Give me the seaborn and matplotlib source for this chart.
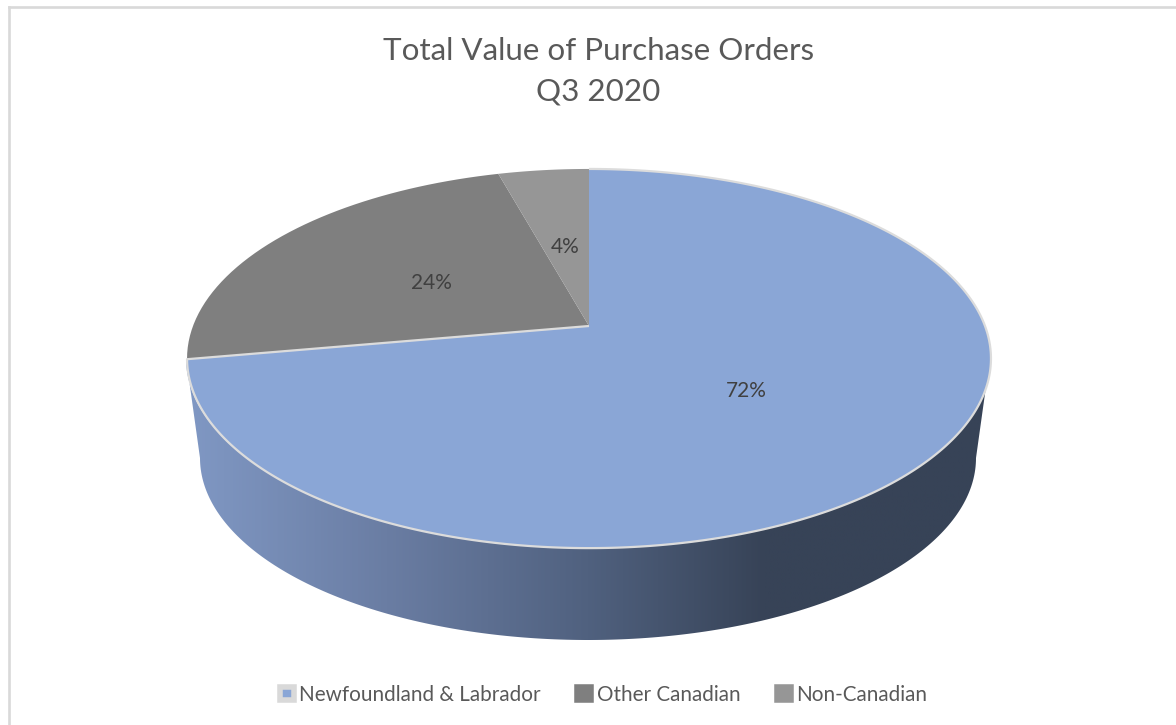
import numpy as np
import matplotlib
matplotlib.use("Agg")
import matplotlib.pyplot as plt
import seaborn as sns
from matplotlib.colors import LinearSegmentedColormap
from matplotlib.patches import Patch, Polygon
from matplotlib.path import Path
from matplotlib.transforms import Transform

# ---- data ----
categories = ["Newfoundland & Labrador", "Other Canadian", "Non-Canadian"]
values = [72.2, 23.5, 4.3]
title = "Total Value of Purchase Orders\nQ3 2020"

# ---- style ----
W, H = 1176, 725
palette = ["#8aa6d6", "#7f7f7f", "#969696"]
text_color = "#595959"
rule_color = "#d9d9d9"
wall_stops = [(0.0, "#8098c4"), (0.25, "#6a7da3"), (0.5, "#50617f"),
              (0.72, "#374357"), (1.0, "#374357")]

sns.set_theme(style="white", rc={"axes.edgecolor": rule_color})
plt.rcParams["font.family"] = ["Lato", "DejaVu Sans"]


class Perspective(Transform):
    """Maps the unit pie circle on to the tilted top face, in pixel-like data units."""
    input_dims = output_dims = 2
    is_separable = False
    has_inverse = False

    def __init__(self, cx, cy, a, b, k):
        super().__init__()
        self.cx, self.cy, self.a, self.b, self.k = cx, cy, a, b, k

    def transform_non_affine(self, values):
        values = np.asarray(values, float)
        u, v = values[:, 0], values[:, 1]
        w = 1 + self.k * v
        return np.column_stack([self.cx + self.a * u / w, self.cy - self.b * v / w])

    def transform_path_non_affine(self, path):
        if path.codes is None:
            out = Path(self.transform_non_affine(path.vertices))
        else:
            pts = [path.vertices[:1]]
            for seg, code in path.iter_bezier():
                if code == Path.MOVETO:
                    continue
                pts.append(seg(np.linspace(0, 1, 25)[1:]))
            out = Path(self.transform_non_affine(np.vstack(pts)))
        out.should_simplify = False
        return out


fig = plt.figure(figsize=(W / 100, H / 100), dpi=100, facecolor="white")
ax = fig.add_axes([8.5 / W, 0, 1 - 8.5 / W, 1 - 6.5 / H])

persp = Perspective(589, 326, 396, 184, 0.1716)

wedges, _, pct = ax.pie(
    values, colors=palette, startangle=90, counterclock=False,
    autopct="%.0f%%", pctdistance=0.49,
    wedgeprops={"transform": persp + ax.transData, "linewidth": 0, "zorder": 3},
    textprops={"color": "#404040", "fontsize": 15, "zorder": 6},
)
for t in pct:
    px, py = t.get_position()
    t.set_position((px, py - 0.02))
    t.set_transform(persp + ax.transData)

ax.set_aspect("auto")
ax.set_xlim(8.5, W)
ax.set_ylim(H, 6.5)
ax.set_frame_on(True)
ax.set_xticks([])
ax.set_yticks([])
sns.despine(ax=ax, top=False, left=False, right=True, bottom=True)
for s in ("top", "left"):
    ax.spines[s].set_color(rule_color)
    ax.spines[s].set_linewidth(1.9)

# side wall: lower half of the top rim joined to lower half of the base rim
th = np.radians(np.linspace(0, 180, 200))
top_x, top_y = 588 + 402 * np.cos(th), 358 + 190 * np.sin(th)
low_x, low_y = 588 + 388 * np.cos(th), 458 + 182 * np.sin(th)
wall = Polygon(np.column_stack([np.r_[top_x, low_x[::-1]], np.r_[top_y, low_y[::-1]]]),
               closed=True, transform=ax.transData, facecolor="none", edgecolor="none")
ax.add_patch(wall)
cmap = LinearSegmentedColormap.from_list("wall", wall_stops)
im = ax.imshow(np.linspace(0, 1, 512)[None, :], extent=(186, 990, 650, 340),
               aspect="auto", cmap=cmap, zorder=2, interpolation="bilinear")
im.set_clip_path(wall)
ax.set_xlim(8.5, W)
ax.set_ylim(H, 6.5)

# light rim around the blue slice
b = wedges[0]
theta = np.radians(np.linspace(b.theta2, b.theta1, 400))
rx, ry = np.r_[np.cos(theta), 0], np.r_[np.sin(theta), 0]
ax.plot(rx, ry, color="#dcdcdc", lw=1.6, transform=persp + ax.transData, zorder=4,
        solid_joinstyle="round", solid_capstyle="butt")

# faint light rim over the grey slices
theta = np.radians(np.linspace(wedges[2].theta2, wedges[1].theta1, 150))
ax.plot(np.cos(theta), np.sin(theta), color="#ececec", lw=1.2,
        transform=persp + ax.transData, zorder=4)

ax.set_title(title, x=(598.5 - 8.5) / (W - 8.5), y=1 - (109 - 6.5) / (H - 6.5),
             fontsize=22.6, color=text_color, linespacing=1.57, fontweight="normal")

lw_swatch = 4.0
handles = [Patch(facecolor=palette[0], edgecolor=rule_color, linewidth=lw_swatch, joinstyle="round"),
           Patch(facecolor=palette[1], edgecolor=palette[1], linewidth=lw_swatch, joinstyle="round"),
           Patch(facecolor=palette[2], edgecolor=palette[2], linewidth=lw_swatch, joinstyle="round")]
leg = ax.legend(handles, categories, ncol=3, loc="center",
                bbox_to_anchor=((603.5 - 8.5) / (W - 8.5), 1 - (695 - 6.5) / (H - 6.5)),
                frameon=False, fontsize=14.9, labelcolor=text_color,
                handlelength=0.68, handleheight=0.62, handletextpad=0.27,
                columnspacing=1.75, borderpad=0)

fig.savefig("out.png", dpi=100)
